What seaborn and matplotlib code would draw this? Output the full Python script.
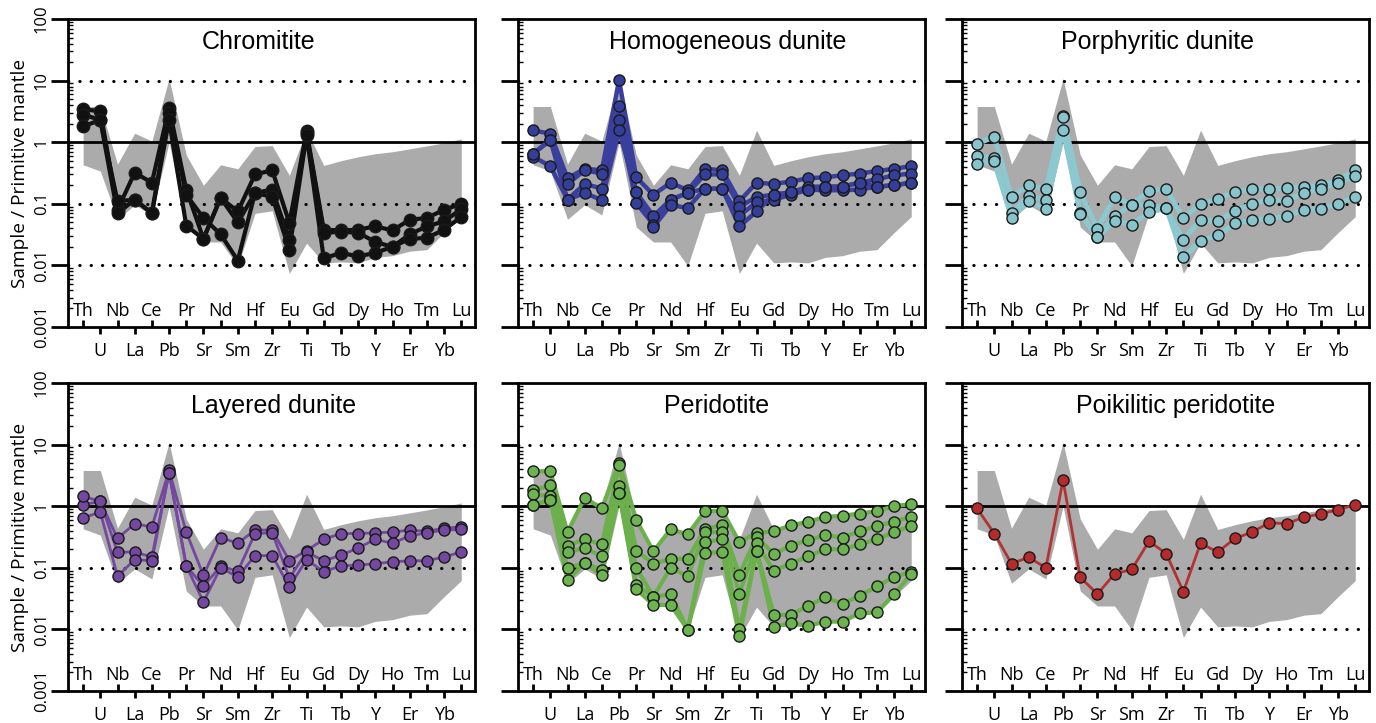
import numpy as np
import pandas as pd
import matplotlib
matplotlib.use("Agg")
import matplotlib.pyplot as plt
import seaborn as sns
from matplotlib.ticker import LogLocator, FixedLocator, FixedFormatter, NullFormatter

# ---------------- data ----------------
ELEMENTS = ["Th", "U", "Nb", "La", "Ce", "Pb", "Pr", "Sr", "Nd", "Sm", "Hf", "Zr",
            "Eu", "Ti", "Gd", "Tb", "Dy", "Y", "Ho", "Er", "Tm", "Yb", "Lu"]
Y_TICKS = [0.001, 0.01, 0.1, 1, 10, 100]
Y_TICK_LABELS = ["0.001", "0.01", "0.1", "1", "10", "100"]
Y_LABEL = "Sample / Primitive mantle"

# grey reference field (upper / lower envelope)
band_upper = [3.8, 3.8, 0.44, 1.4, 1.04, 10.8, 0.62, 0.2, 0.43, 0.37, 0.85, 0.88,
              0.29, 1.57, 0.42, 0.5, 0.58, 0.65, 0.7, 0.78, 0.87, 0.98, 1.13]
band_lower = [0.43, 0.34, 0.056, 0.096, 0.066, 1.0, 0.042, 0.024, 0.024, 0.0098, 0.07, 0.077,
              0.0074, 0.023, 0.011, 0.0114, 0.011, 0.0135, 0.0144, 0.017, 0.018, 0.034, 0.062]

# Chromitite
chrom_1 = [3.4, 3.2, 0.08, 0.32, 0.22, 3.6, 0.17, 0.027, 0.125, 0.075, 0.3, 0.35,
           0.049, 1.5, 0.038, 0.037, 0.038, 0.043, 0.037, 0.055, 0.059, 0.08, 0.1]
chrom_2 = [2.8, 2.3, 0.11, 0.117, 0.07, 3.0, 0.14, 0.059, 0.032, 0.012, 0.15, 0.17,
           0.026, 1.4, 0.034, 0.035, 0.034, 0.024, 0.02, 0.032, 0.043, 0.052, 0.082]
chrom_3 = [1.8, 2.3, 0.07, 0.117, 0.07, 2.3, 0.044, 0.027, 0.125, 0.05, 0.15, 0.13,
           0.018, 1.3, 0.013, 0.016, 0.014, 0.016, 0.02, 0.027, 0.028, 0.038, 0.061]

# Homogeneous dunite
homo_1 = [1.55, 1.38, 0.26, 0.37, 0.35, 10.2, 0.27, 0.14, 0.22, 0.166, 0.37, 0.35,
          0.11, 0.22, 0.21, 0.23, 0.26, 0.27, 0.29, 0.31, 0.34, 0.37, 0.41]
homo_2 = [0.65, 1.08, 0.21, 0.35, 0.31, 3.9, 0.154, 0.063, 0.117, 0.15, 0.30, 0.30,
          0.089, 0.13, 0.14, 0.154, 0.19, 0.19, 0.19, 0.22, 0.25, 0.29, 0.31]
homo_3 = [0.58, 0.41, 0.117, 0.21, 0.177, 2.3, 0.103, 0.046, 0.117, 0.15, 0.177, 0.175,
          0.064, 0.106, 0.117, 0.14, 0.17, 0.166, 0.166, 0.17, 0.19, 0.2, 0.22]
homo_4 = [0.65, 1.08, 0.117, 0.15, 0.115, 1.55, 0.154, 0.042, 0.095, 0.086, 0.177, 0.175,
          0.043, 0.075, 0.14, 0.154, 0.17, 0.19, 0.19, 0.22, 0.19, 0.2, 0.22]

# Porphyritic dunite
porph_1 = [0.94, 1.22, 0.13, 0.2, 0.174, 2.7, 0.154, 0.039, 0.13, 0.097, 0.164, 0.174,
           0.059, 0.1, 0.12, 0.156, 0.174, 0.174, 0.18, 0.19, 0.2, 0.24, 0.35]
porph_2 = [0.59, 0.56, 0.071, 0.136, 0.114, 2.6, 0.071, 0.029, 0.063, 0.097, 0.095, 0.086,
           0.026, 0.055, 0.052, 0.077, 0.1, 0.117, 0.113, 0.15, 0.174, 0.22, 0.28]
porph_3 = [0.44, 0.49, 0.059, 0.11, 0.082, 1.55, 0.068, 0.029, 0.053, 0.046, 0.074, 0.086,
           0.0135, 0.025, 0.031, 0.048, 0.055, 0.057, 0.063, 0.08, 0.083, 0.1, 0.13]

# Layered dunite
layer_1 = [1.06, 1.2, 0.3, 0.52, 0.46, 3.8, 0.38, 0.075, 0.31, 0.25, 0.41, 0.41,
           0.13, 0.19, 0.29, 0.36, 0.36, 0.37, 0.38, 0.41, 0.39, 0.44, 0.46]
layer_2 = [1.45, 1.2, 0.18, 0.18, 0.15, 3.5, 0.108, 0.05, 0.106, 0.088, 0.36, 0.37,
           0.068, 0.18, 0.13, 0.16, 0.21, 0.29, 0.25, 0.33, 0.37, 0.41, 0.42]
layer_3 = [0.65, 0.8, 0.073, 0.136, 0.13, 3.5, 0.108, 0.028, 0.1, 0.071, 0.158, 0.158,
           0.049, 0.136, 0.086, 0.108, 0.11, 0.117, 0.125, 0.13, 0.13, 0.15, 0.18]

# Peridotite
perid_1 = [3.7, 3.7, 0.38, 1.37, 0.92, 5.1, 0.6, 0.185, 0.42, 0.35, 0.83, 0.85,
           0.26, 0.37, 0.39, 0.49, 0.56, 0.67, 0.7, 0.76, 0.83, 1.0, 1.09]
perid_2 = [1.82, 2.17, 0.23, 0.29, 0.24, 4.6, 0.19, 0.116, 0.14, 0.14, 0.43, 0.49,
           0.077, 0.32, 0.168, 0.23, 0.28, 0.34, 0.31, 0.39, 0.48, 0.56, 0.67]
perid_3 = [1.55, 1.45, 0.18, 0.21, 0.154, 2.1, 0.1, 0.034, 0.1, 0.073, 0.38, 0.38,
           0.038, 0.25, 0.09, 0.117, 0.154, 0.2, 0.2, 0.24, 0.29, 0.38, 0.48]
perid_4 = [1.04, 1.28, 0.1, 0.12, 0.093, 1.65, 0.053, 0.034, 0.037, 0.0099, 0.26, 0.29,
           0.0101, 0.19, 0.0174, 0.017, 0.0244, 0.033, 0.026, 0.035, 0.05, 0.071, 0.086]
perid_5 = [1.04, 1.28, 0.063, 0.12, 0.075, 1.65, 0.045, 0.025, 0.025, 0.0099, 0.175, 0.18,
           0.0077, 0.19, 0.011, 0.0126, 0.0115, 0.0133, 0.0134, 0.0183, 0.019, 0.037, 0.08]

# Poikilitic peridotite
poik_1 = [0.92, 0.36, 0.117, 0.148, 0.1, 2.65, 0.07, 0.0375, 0.08, 0.094, 0.27, 0.17,
          0.041, 0.25, 0.18, 0.3, 0.38, 0.54, 0.52, 0.66, 0.75, 0.88, 1.06]

TITLES = ["Chromitite", "Homogeneous dunite", "Porphyritic dunite",
          "Layered dunite", "Peridotite", "Poikilitic peridotite"]
SERIES = [[chrom_1, chrom_2, chrom_3],
          [homo_1, homo_2, homo_3, homo_4],
          [porph_1, porph_2, porph_3],
          [layer_1, layer_2, layer_3],
          [perid_1, perid_2, perid_3, perid_4, perid_5],
          [poik_1]]

# ---------------- styles / layout ----------------
LINE_COLORS = ["#111111", "#3a3f9e", "#8cc8cf", "#7447a0", "#6cb04c", "#b33232"]
FACE_COLORS = ["#111111", "#343f9c", "#88c4cc", "#7447a0", "#6cb450", "#b52a2a"]
LINE_WIDTHS = [3.0, 3.2, 3.6, 2.0, 3.0, 2.0]
MARKER_SIZES = [9.0, 8.0, 8.0, 8.0, 8.0, 8.0]
TITLE_X = [0.467, 0.516, 0.48, 0.504, 0.488, 0.526]

W, H = 1376, 723
AX_W, AX_H = 407, 308
AX_LEFT = [68, 518, 962]
AX_TOP = [19, 383]

sns.set_theme(style="ticks")
plt.rcParams["font.family"] = ["Open Sans", "DejaVu Sans"]
plt.rcParams["text.color"] = "black"
plt.rcParams["axes.labelcolor"] = "black"

fig = plt.figure(figsize=(W / 100, H / 100), dpi=100)
fig.patch.set_facecolor("white")

x_pos = np.arange(len(ELEMENTS))
upper_idx = x_pos[0::2]
lower_idx = x_pos[1::2]

for k in range(6):
    r, c = divmod(k, 3)
    left = AX_LEFT[c] / W
    bottom = 1 - (AX_TOP[r] + AX_H) / H
    ax = fig.add_axes([left, bottom, AX_W / W, AX_H / H])
    ax.set_yscale("log")
    ax.set_ylim(0.001, 100)
    ax.set_xlim(-0.88, 22.8)

    # reference field
    ax.fill_between(x_pos, band_lower, band_upper, color="#ababab", lw=0, zorder=1)
    # reference lines
    ax.axhline(1, color="black", lw=2.0, zorder=2)
    for yv in (10, 0.1, 0.01):
        ax.axhline(yv, color="black", lw=2.2, ls=(0, (0.1, 3.6)),
                   dash_capstyle="round", zorder=2)

    rows = []
    for s, vals in enumerate(SERIES[k]):
        for i, v in enumerate(vals):
            rows.append({"pos": i, "value": v, "sample": s})
    df = pd.DataFrame(rows)
    sns.lineplot(data=df, x="pos", y="value", units="sample", estimator=None,
                 sort=False, color=LINE_COLORS[k], lw=LINE_WIDTHS[k],
                 legend=False, ax=ax, zorder=3)
    sns.scatterplot(data=df, x="pos", y="value", color=FACE_COLORS[k],
                    s=MARKER_SIZES[k] ** 2, edgecolor="#1a1a1a", linewidth=1.0,
                    legend=False, ax=ax, zorder=4)

    ax.set_xlabel("")
    ax.set_ylabel("")

    # x ticks: alternate labels inside (top row) and outside (bottom row)
    ax.xaxis.set_major_locator(FixedLocator(upper_idx))
    ax.xaxis.set_major_formatter(FixedFormatter([ELEMENTS[i] for i in upper_idx]))
    ax.xaxis.set_minor_locator(FixedLocator(lower_idx))
    ax.xaxis.set_minor_formatter(FixedFormatter([ELEMENTS[i] for i in lower_idx]))
    ax.tick_params(axis="x", which="major", direction="in", length=5, width=2,
                   pad=-18, labelsize=13, colors="black")
    ax.tick_params(axis="x", which="minor", direction="out", length=5, width=2,
                   pad=6, labelsize=13, colors="black")

    # y ticks
    ax.yaxis.set_major_locator(FixedLocator(Y_TICKS))
    ax.yaxis.set_minor_locator(LogLocator(base=10, subs=np.arange(2, 10)))
    ax.yaxis.set_minor_formatter(NullFormatter())
    ax.tick_params(axis="y", which="major", direction="out", length=12, width=2,
                   pad=1, labelsize=12, colors="black")
    ax.tick_params(axis="y", which="minor", direction="in", length=3.5, width=1,
                   colors="black")
    if c == 0:
        ax.yaxis.set_major_formatter(FixedFormatter(Y_TICK_LABELS))
        for lab in ax.get_yticklabels():
            lab.set_rotation(90)
            lab.set_va("center")
        ax.set_ylabel(Y_LABEL, fontsize=13.8, va="center", color="black")
        ax.yaxis.set_label_coords(-0.118, 0.5)
    else:
        ax.yaxis.set_major_formatter(NullFormatter())

    for sp in ax.spines.values():
        sp.set_linewidth(2)
        sp.set_color("black")
        sp.set_zorder(6)

    ax.text(TITLE_X[k], 0.925, TITLES[k], transform=ax.transAxes, ha="center",
            va="center", fontsize=18, color="black",
            family=["Liberation Sans", "DejaVu Sans"], zorder=7)

fig.savefig("out.png", dpi=100, facecolor="white")
